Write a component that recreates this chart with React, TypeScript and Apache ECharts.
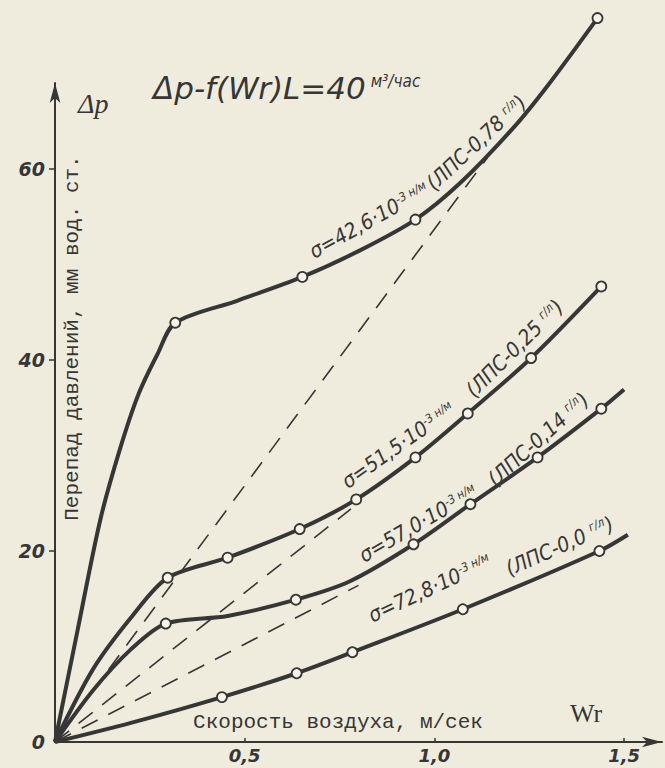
import React, { useEffect, useRef } from "react";
import * as echarts from "echarts";

// ---- data ----
const xTicks = [0.5, 1.0, 1.5];
const yTickMarks = [20, 40, 60];
const yTickLabels = [0, 20, 40, 60];

// curve σ=42,6
const curve1Line = [[0, 0], [0.06, 11.8], [0.119, 23.2], [0.17, 30.5], [0.22, 36.4], [0.27, 40.6], [0.317, 43.9], [0.48, 46.2], [0.652, 48.7], [0.8, 51.4], [0.95, 54.7], [1.07, 58.6], [1.208, 64.3], [1.3, 68.8], [1.43, 75.8]];
const curve1Points = [[0.317, 43.9], [0.652, 48.7], [0.95, 54.7], [1.43, 75.8]];
// curve σ=51,5
const curve2Line = [[0, 0], [0.1, 7.6], [0.2, 13.0], [0.297, 17.2], [0.455, 19.3], [0.645, 22.3], [0.794, 25.4], [0.95, 29.8], [1.088, 34.4], [1.255, 40.2], [1.44, 47.7]];
const curve2Points = [[0.297, 17.2], [0.455, 19.3], [0.645, 22.3], [0.794, 25.4], [0.95, 29.8], [1.088, 34.4], [1.255, 40.2], [1.44, 47.7]];
// curve σ=57,0
const curve3Line = [[0, 0], [0.1, 5.4], [0.2, 9.7], [0.292, 12.4], [0.455, 13.2], [0.635, 14.9], [0.776, 16.8], [0.945, 20.7], [1.095, 24.9], [1.272, 29.8], [1.44, 34.9], [1.5, 36.9]];
const curve3Points = [[0.292, 12.4], [0.635, 14.9], [0.945, 20.7], [1.095, 24.9], [1.272, 29.8], [1.44, 34.9]];
// curve σ=72,8
const curve4Line = [[0, 0], [0.2, 2.0], [0.44, 4.7], [0.637, 7.2], [0.784, 9.4], [1.075, 13.9], [1.435, 20.0], [1.51, 21.7]];
const curve4Points = [[0.44, 4.7], [0.637, 7.2], [0.784, 9.4], [1.075, 13.9], [1.435, 20.0]];
// dashed reference lines
const dashed1 = [[0, 0], [1.14, 61.2]];
const dashed2 = [[0, 0], [0.78, 24.4]];
const dashed3 = [[0, 0], [0.8, 16.4]];

const titleMain = "Δp-f(Wr)L=40";
const titleUnit = "м³/час";
const yName = "Перепад давлений, мм вод. ст.";
const xName = "Скорость воздуха, м/сек";
const curveLabels = [
  { a: "σ=42,6·10", e: "-3 н/м", b: "(ЛПС-0,78 ", u: "г/л", c: ")" },
  { a: "σ=51,5·10", e: "-3 н/м", b: "(ЛПС-0,25 ", u: "г/л", c: ")" },
  { a: "σ=57,0·10", e: "-3 н/м", b: "(ЛПС-0,14 ", u: "г/л", c: ")" },
  { a: "σ=72,8·10", e: "-3 н/м", b: "(ЛПС-0,0 ", u: "г/л", c: ")" },
];

const INK = "#363636";
const PAPER = "#f0ecdd";
const HAND = "DejaVu Sans Condensed, DejaVu Sans, sans-serif";
const MONO = "Liberation Mono, DejaVu Sans Mono, monospace";

const rad = (d: number) => (d * Math.PI) / 180;

function lineSeries(data: number[][]) {
  return {
    type: "line",
    data,
    smooth: 0.3,
    showSymbol: false,
    clip: false,
    lineStyle: { color: INK, width: 4 },
    z: 3,
  };
}
function pointSeries(data: number[][]) {
  return {
    type: "scatter",
    data,
    symbol: "circle",
    symbolSize: 10,
    clip: false,
    itemStyle: { color: "#f6f3e8", borderColor: INK, borderWidth: 1.8, opacity: 1 },
    z: 5,
  };
}
function dashSeries(data: number[][]) {
  return {
    type: "line",
    data,
    showSymbol: false,
    clip: false,
    lineStyle: { color: INK, width: 1.6, type: [18, 12] },
    z: 2,
  };
}

const richStyle = {
  m: { fontFamily: HAND, fontStyle: "italic", fontSize: 21, fill: INK },
  s: { fontFamily: HAND, fontStyle: "italic", fontSize: 12, fill: INK, verticalAlign: "top" },
};

function curveText(x: number, y: number, deg: number, text: string) {
  return {
    type: "text",
    x,
    y,
    rotation: rad(deg),
    style: {
      text,
      rich: richStyle,
      fill: INK,
      align: "left",
      verticalAlign: "bottom",
      font: `italic 21px ${HAND}`,
    },
    z: 10,
  };
}

export default function App() {
  const ref = useRef<HTMLDivElement>(null);
  useEffect(() => {
    if (!ref.current) return;
    const chart = echarts.init(ref.current, null, { renderer: "svg" });
    const L = curveLabels;
    const option: any = {
      animation: false,
      backgroundColor: PAPER,
      grid: { left: 55, top: 83, right: 3, bottom: 26, outerBoundsMode: "none" },
      xAxis: {
        type: "value",
        min: 0,
        max: 1.6,
        axisLine: { show: true, symbol: ["none", "arrow"], symbolSize: [8, 20], lineStyle: { color: INK, width: 2 } },
        axisTick: { show: true, customValues: xTicks, length: 4, inside: true, lineStyle: { color: INK, width: 1.5 } },
        axisLabel: {
          customValues: xTicks,
          formatter: (v: number) => v.toFixed(1).replace(".", ","),
          fontFamily: "DejaVu Sans",
          fontStyle: "italic",
          fontWeight: "bold",
          fontSize: 18,
          color: INK,
          margin: 4,
        },
        splitLine: { show: false },
      },
      yAxis: {
        type: "value",
        min: 0,
        max: 69,
        axisLine: { show: true, symbol: ["none", "arrow"], symbolSize: [8, 20], lineStyle: { color: INK, width: 2 } },
        axisTick: { show: true, customValues: yTickMarks, length: 6, lineStyle: { color: INK, width: 1.5 } },
        axisLabel: {
          customValues: yTickLabels,
          formatter: (v: number) => String(v),
          fontFamily: "DejaVu Sans",
          fontStyle: "italic",
          fontWeight: "bold",
          fontSize: 19,
          color: INK,
          margin: 10,
        },
        splitLine: { show: false },
      },
      series: [
        dashSeries(dashed1),
        dashSeries(dashed2),
        dashSeries(dashed3),
        lineSeries(curve1Line),
        lineSeries(curve2Line),
        lineSeries(curve3Line),
        lineSeries(curve4Line),
        pointSeries(curve1Points),
        pointSeries(curve2Points),
        pointSeries(curve3Points),
        pointSeries(curve4Points),
      ],
      graphic: [
        {
          type: "text",
          x: 153,
          y: 88,
          style: {
            text: `{t|${titleMain}}{u|${titleUnit}}`,
            rich: {
              t: { fontFamily: "DejaVu Sans", fontStyle: "italic", fontSize: 31, fill: INK },
              u: { fontFamily: HAND, fontStyle: "italic", fontSize: 17, fill: INK, verticalAlign: "top", padding: [0, 0, 0, 5] },
            },
            verticalAlign: "middle",
            align: "left",
          },
        },
        {
          type: "text",
          x: 78,
          y: 103,
          style: { text: "Δp", font: "italic 28px 'Liberation Serif', serif", fill: INK, verticalAlign: "middle", align: "left" },
        },
        {
          type: "text",
          x: 72,
          y: 338,
          rotation: rad(90),
          style: { text: yName, font: `21px ${MONO}`, fill: INK, align: "center", verticalAlign: "middle" },
        },
        {
          type: "text",
          x: 338,
          y: 722,
          style: { text: xName, font: `21px ${MONO}`, fill: INK, align: "center", verticalAlign: "middle" },
        },
        {
          type: "text",
          x: 586,
          y: 713,
          style: { text: "Wr", font: "26px 'Liberation Serif', serif", fill: INK, align: "center", verticalAlign: "middle" },
        },
        curveText(316, 262, 29, `{m|${L[0].a}}{s|${L[0].e}}`),
        curveText(437, 194, 43, `{m|${L[0].b}}{s|${L[0].u}}{m|${L[0].c}}`),
        curveText(350, 492, 35, `{m|${L[1].a}}{s|${L[1].e}}`),
        curveText(477, 401, 45, `{m|${L[1].b}}{s|${L[1].u}}{m|${L[1].c}}`),
        curveText(366, 566, 30, `{m|${L[2].a}}{s|${L[2].e}}`),
        curveText(498, 490, 42, `{m|${L[2].b}}{s|${L[2].u}}{m|${L[2].c}}`),
        curveText(374, 626, 25, `{m|${L[3].a}}{s|${L[3].e}}`),
        curveText(511, 579, 24, `{m|${L[3].b}}{s|${L[3].u}}{m|${L[3].c}}`),
      ],
    };
    chart.setOption(option);
    return () => chart.dispose();
  }, []);
  return (
    <div
      ref={ref}
      style={{ position: "fixed", left: 0, top: 0, width: 665, height: 768 }}
    />
  );
}
